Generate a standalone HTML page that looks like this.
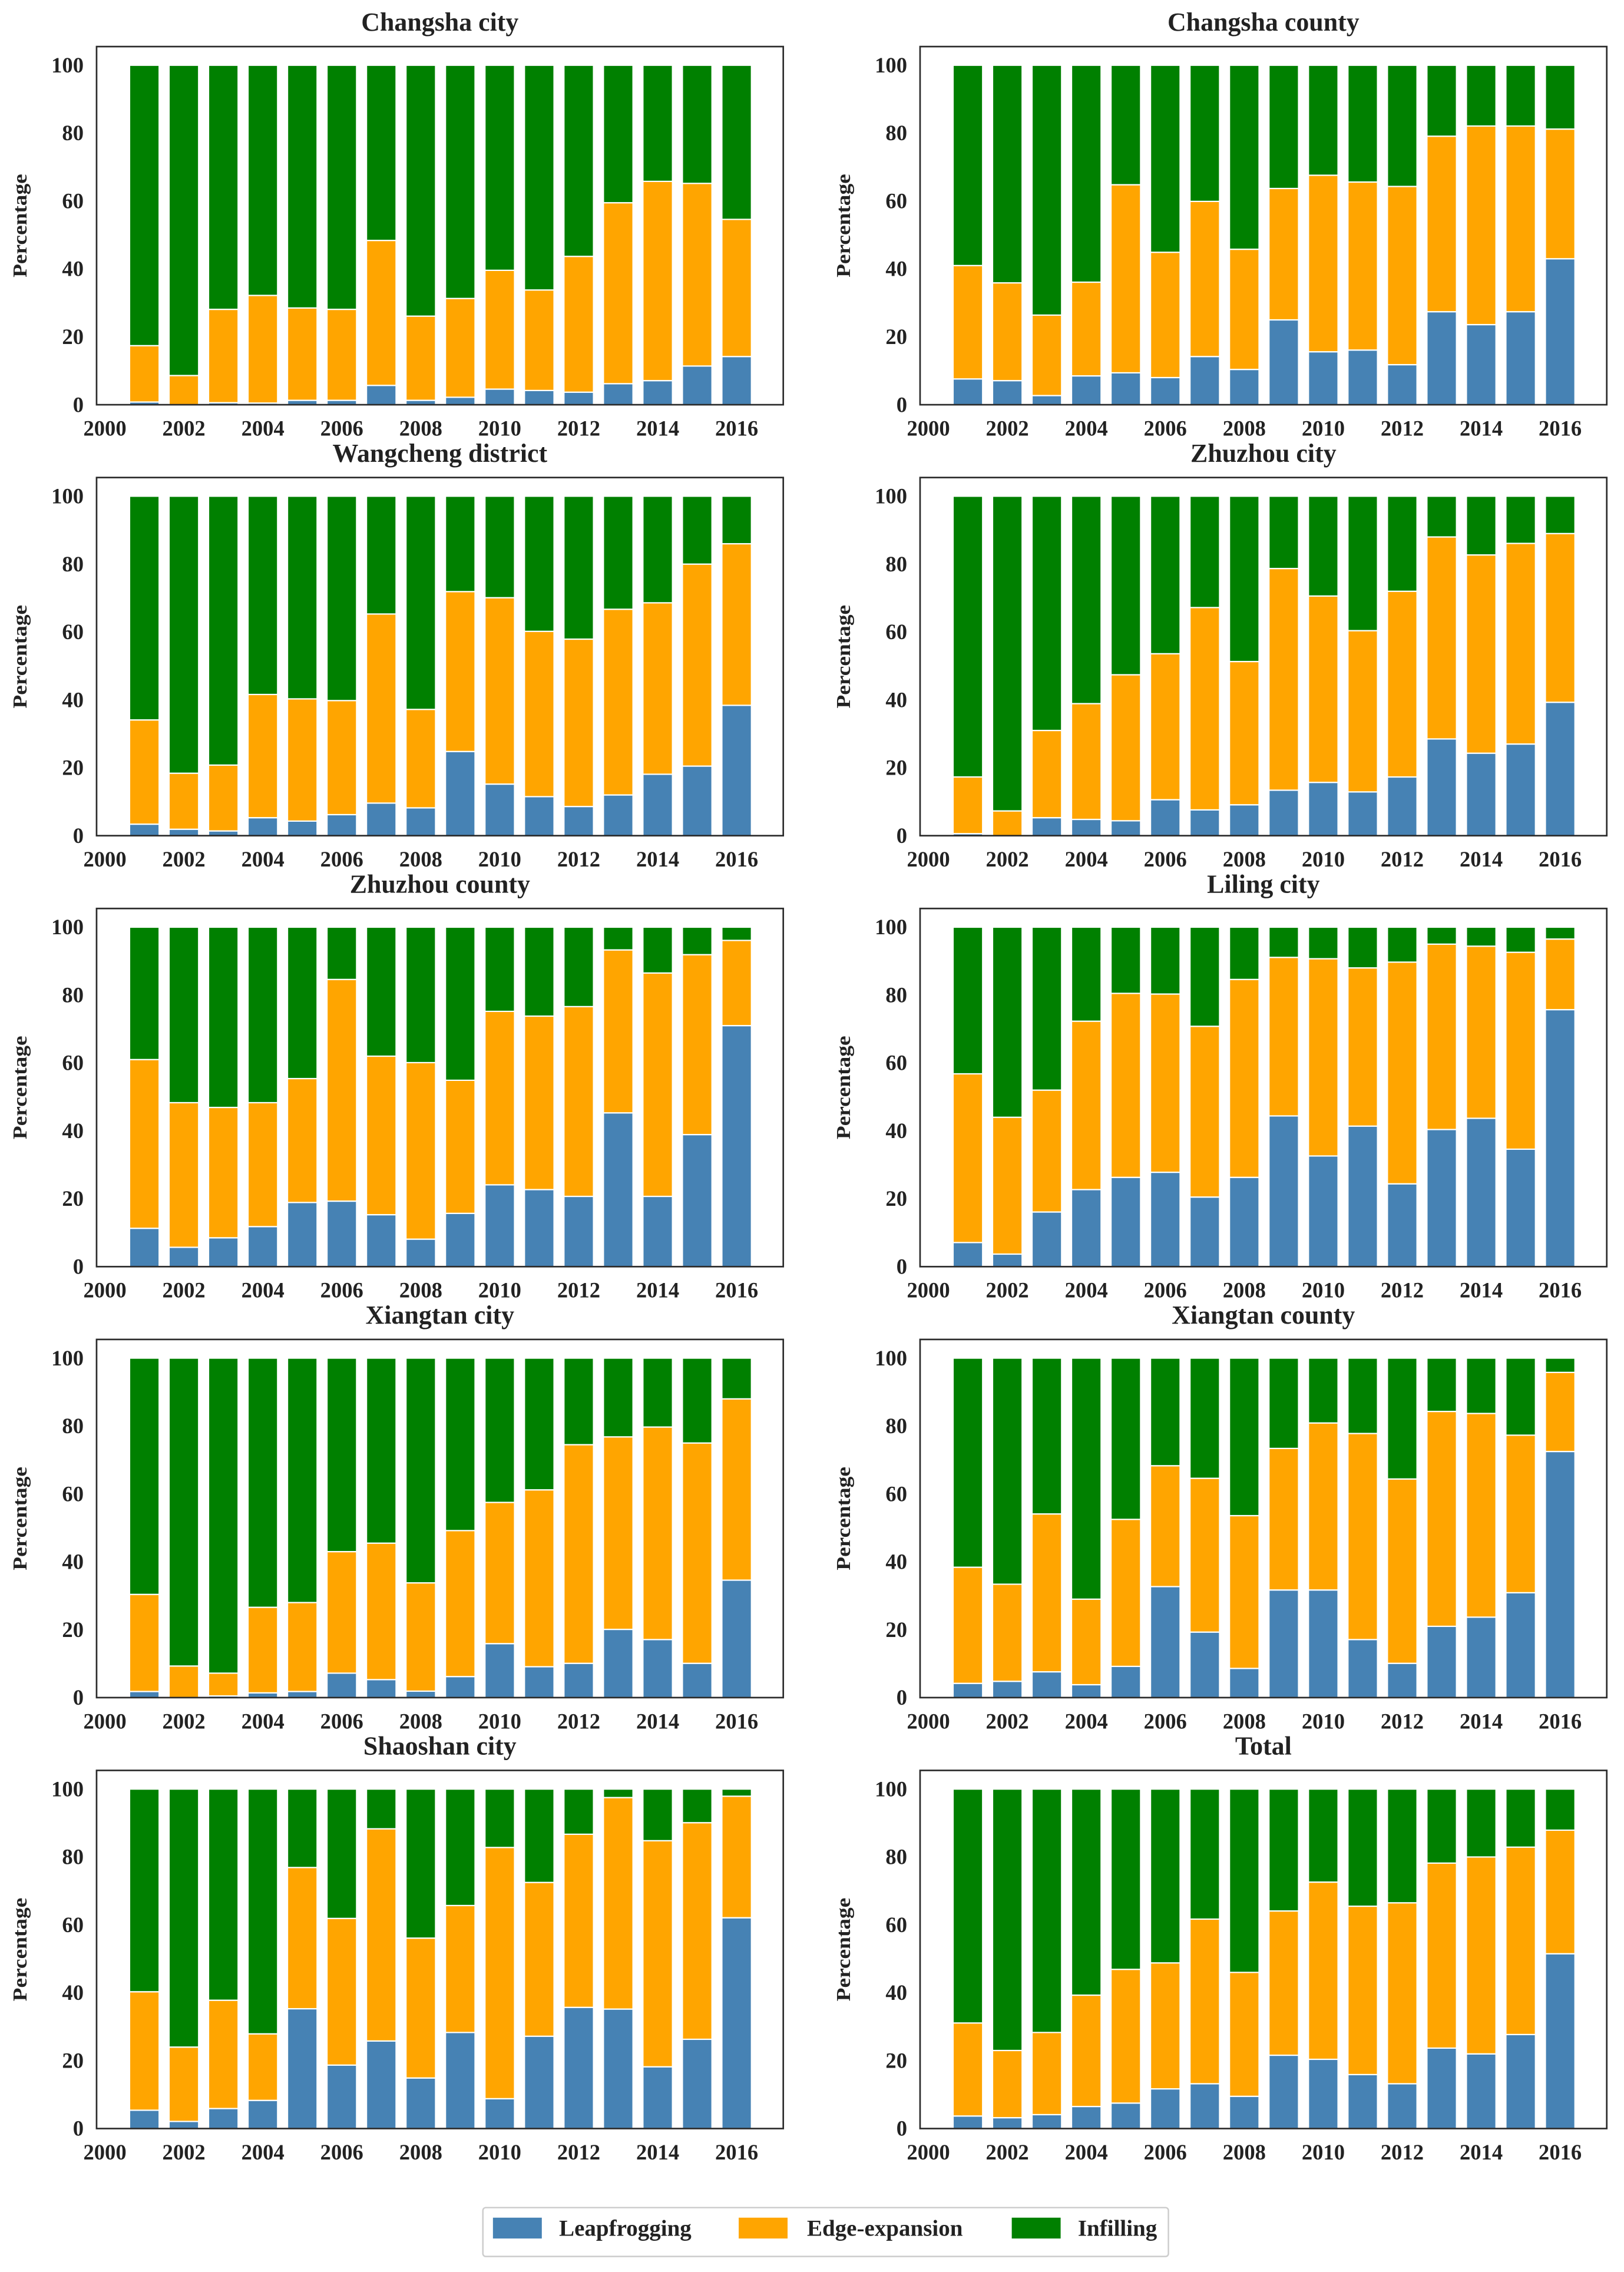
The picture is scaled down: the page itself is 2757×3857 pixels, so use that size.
<!DOCTYPE html>
<html><head><meta charset="utf-8"><title>Urban expansion types by region</title>
<style>
html,body{margin:0;padding:0;background:#fff;}
svg{display:block;}
text{font-family:"Liberation Serif","Times New Roman",serif;font-weight:bold;fill:#222;}
</style></head>
<body>
<svg id="fig" xmlns="http://www.w3.org/2000/svg" width="2757" height="3857" viewBox="0 0 1130 1580.8" preserveAspectRatio="none">
<rect x="0" y="0" width="1130" height="1580.8" fill="#fff"/>
<g id="panels"></g>
<g id="legend">
  <rect x="336" y="1536" width="477" height="34" fill="#fff" stroke="#ccc" stroke-width="1" rx="2"/>
  <rect x="343" y="1543" width="34" height="14.5" fill="#4682b4"/>
  <text x="389" y="1555.5" font-size="16">Leapfrogging</text>
  <rect x="514" y="1543" width="34" height="14.5" fill="#ffa500"/>
  <text x="561.5" y="1555.5" font-size="16">Edge-expansion</text>
  <rect x="704" y="1543" width="34" height="14.5" fill="#008000"/>
  <text x="750" y="1555.5" font-size="16">Infilling</text>
</g>
</svg>
<script>
const years = [2001,2002,2003,2004,2005,2006,2007,2008,2009,2010,2011,2012,2013,2014,2015,2016];
const xTicks = [2000,2002,2004,2006,2008,2010,2012,2014,2016];
const yTicks = [0,20,40,60,80,100];
const titles = ["Changsha city","Changsha county","Wangcheng district","Zhuzhou city","Zhuzhou county","Liling city","Xiangtan city","Xiangtan county","Shaoshan city","Total"];

const leapChangshaCity = [0.8,0,0.6,0.5,1.3,1.3,5.7,1.3,2.2,4.6,4.2,3.7,6.2,7.1,11.4,14.2];
const edgeChangshaCity = [16.6,8.6,27.5,31.7,27.2,26.8,42.7,24.8,29.1,35.0,29.6,40.0,53.3,58.7,53.8,40.4];
const leapChangshaCounty = [7.6,7.1,2.7,8.5,9.4,8,14.2,10.4,25,15.6,16.1,11.8,27.4,23.6,27.4,43];
const edgeChangshaCounty = [33.4,28.8,23.7,27.6,55.4,36.9,45.7,35.4,38.7,52.0,49.5,52.5,51.7,58.5,54.7,38.2];
const leapWangcheng = [3.4,1.9,1.4,5.3,4.3,6.2,9.6,8.2,24.8,15.2,11.5,8.6,12,18.1,20.5,38.4];
const edgeWangcheng = [30.7,16.5,19.4,36.3,36.0,33.6,55.7,29.0,47.1,54.9,48.7,49.3,54.7,50.5,59.5,47.6];
const leapZhuzhouCity = [0.6,0,5.3,4.8,4.4,10.6,7.6,9.1,13.4,15.7,12.9,17.3,28.5,24.3,27,39.3];
const edgeZhuzhouCity = [16.7,7.3,25.7,34.1,43.0,43.0,59.6,42.2,65.3,54.9,47.5,54.7,59.5,58.4,59.1,49.7];
const leapZhuzhouCounty = [11.3,5.7,8.5,11.8,18.9,19.3,15.3,8.1,15.7,24.1,22.7,20.7,45.3,20.7,38.9,71];
const edgeZhuzhouCounty = [49.7,42.6,38.4,36.5,36.5,65.3,46.7,52.0,39.2,51.1,51.1,55.9,48.0,65.8,53.0,25.1];
const leapLiling = [7.1,3.7,16.1,22.7,26.3,27.8,20.5,26.3,44.4,32.6,41.4,24.4,40.4,43.7,34.6,75.7];
const edgeLiling = [49.7,40.3,35.9,49.6,54.2,52.5,50.3,58.3,46.7,58.1,46.6,65.3,54.6,50.7,58.0,20.8];
const leapXiangtanCity = [1.8,0,0.5,1.4,1.8,7.2,5.3,1.9,6.2,15.9,9.1,10.1,20.1,17.1,10.1,34.6];
const edgeXiangtanCity = [28.6,9.3,6.7,25.2,26.2,35.8,40.2,31.9,43.0,41.6,52.1,64.4,56.7,62.6,64.9,53.4];
const leapXiangtanCounty = [4.2,4.8,7.6,3.8,9.2,32.7,19.3,8.6,31.7,31.7,17.1,10.1,21,23.7,30.9,72.5];
const edgeXiangtanCounty = [34.2,28.6,46.5,25.2,43.3,35.6,45.3,45.0,41.7,49.2,60.7,54.3,63.3,60.0,46.4,23.3];
const leapShaoshan = [5.4,2.1,5.9,8.3,35.3,18.7,25.8,14.9,28.3,8.8,27.2,35.7,35.2,18.2,26.3,62.1];
const edgeShaoshan = [34.9,21.9,31.9,19.6,41.6,43.2,62.5,41.2,37.4,74.0,45.3,51.0,62.3,66.6,63.8,35.8];
const leapTotal = [3.7,3.2,4.1,6.5,7.5,11.7,13.2,9.5,21.6,20.4,15.9,13.2,23.7,22,27.7,51.5];
const edgeTotal = [27.4,19.8,24.2,32.8,39.4,37.1,48.5,36.5,42.5,52.2,49.6,53.3,54.5,58.0,55.2,36.4];

const leapSeries = [leapChangshaCity,leapChangshaCounty,leapWangcheng,leapZhuzhouCity,leapZhuzhouCounty,leapLiling,leapXiangtanCity,leapXiangtanCounty,leapShaoshan,leapTotal];
const edgeSeries = [edgeChangshaCity,edgeChangshaCounty,edgeWangcheng,edgeZhuzhouCity,edgeZhuzhouCounty,edgeLiling,edgeXiangtanCity,edgeXiangtanCounty,edgeShaoshan,edgeTotal];

const NS = "http://www.w3.org/2000/svg";
const COLORS = {leap:"#4682b4", edge:"#ffa500", infill:"#008000"};
const XMIN = 1999.79, XMAX = 2017.18, YMAX = 105.5;
const BOX_W = 477.8, PX_PER_UNIT = 2.362;
const COL_LEFT = [67.2, 640.2];
const ROW_Y100 = 45.4, ROW_PITCH = 299.85;

function mk(tag, attrs){ const e=document.createElementNS(NS,tag); for(const k in attrs) e.setAttribute(k,attrs[k]); return e; }
function slug(s){ return s.toLowerCase().replace(/\s+/g,'-'); }

const root = document.getElementById('panels');
titles.forEach((title, p) => {
  const col = p % 2, row = Math.floor(p/2);
  const left = COL_LEFT[col];
  const y0 = ROW_Y100 + row*ROW_PITCH + 100*PX_PER_UNIT;
  const xs = v => left + (v - XMIN)/(XMAX - XMIN)*BOX_W;
  const ys = v => y0 - v*PX_PER_UNIT;
  const top = ys(YMAX);
  const name = slug(title);

  const g = mk('g', {});
  
  
  root.appendChild(g);

  const t = mk('text', {x: left + BOX_W/2, y: top - 11, 'font-size': 18, 'text-anchor':'middle'});
  t.textContent = title;
  
  
  g.appendChild(t);

  const bw = 0.75;
  years.forEach((yr, i) => {
    const l = leapSeries[p][i], e = edgeSeries[p][i];
    const inf = Math.max(0, 100 - l - e);
    const x = xs(yr - bw/2), w = xs(yr + bw/2) - xs(yr - bw/2);
    const segs = [[0,l,COLORS.leap,'leapfrogging'],[l,l+e,COLORS.edge,'edge-expansion'],[l+e,l+e+inf,COLORS.infill,'infilling']];
    segs.forEach(s => {
      if (s[1] - s[0] <= 0) return;
      const r = mk('rect', {x:x, y:ys(s[1]), width:w, height:ys(s[0])-ys(s[1]), fill:s[2], stroke:'#fff', 'stroke-width':0.9});
      
      
      g.appendChild(r);
    });
  });

  const frame = mk('rect', {x:left, y:top, width:BOX_W, height:y0-top, fill:'none', stroke:'#2b2b2b', 'stroke-width':1.1});
  
  
  g.appendChild(frame);

  xTicks.forEach(v => {
    const tx = mk('text', {x: xs(v), y: y0 + 21.5, 'font-size': 15, 'text-anchor':'middle'});
    tx.textContent = v;
    
    
    g.appendChild(tx);
  });
  yTicks.forEach(v => {
    const ty = mk('text', {x: left - 9, y: ys(v) + 5, 'font-size': 15, 'text-anchor':'end'});
    ty.textContent = v;
    
    
    g.appendChild(ty);
  });

  const cy = (top + y0)/2, cx = left - 48.8;
  const yl = mk('text', {x: cx, y: cy, 'font-size': 14, 'text-anchor':'middle', transform:'rotate(-90 '+cx+' '+cy+')', textLength:72, lengthAdjust:'spacingAndGlyphs'});
  yl.textContent = 'Percentage';
  
  
  g.appendChild(yl);
});
</script>
</body></html>
